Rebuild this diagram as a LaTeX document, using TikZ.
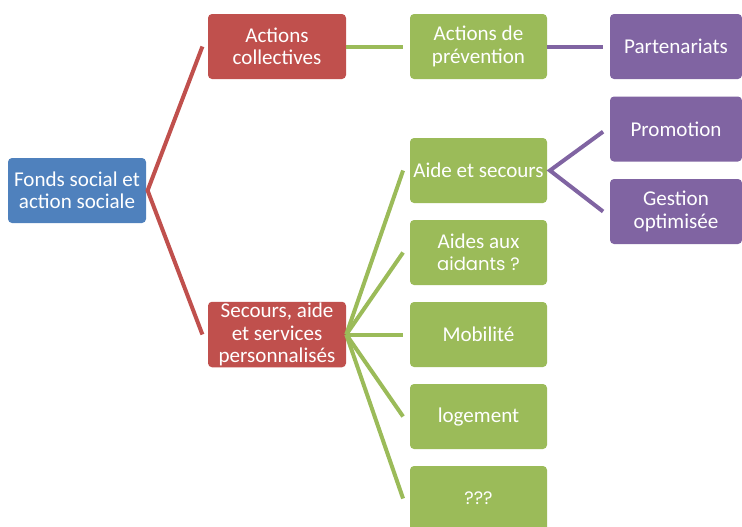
\documentclass[tikz,border=0pt]{standalone}
\usepackage{fontspec}
\setmainfont{Carlito}
\newfontfamily\geofont{Poppins}
\definecolor{cblue}{HTML}{4F81BD}
\definecolor{cred}{HTML}{C0504D}
\definecolor{cgreen}{HTML}{9BBB59}
\definecolor{cpurple}{HTML}{8064A2}
\tikzset{
  box/.style={rounded corners=3pt, minimum width=103.5pt, minimum height=48.75pt, inner sep=1pt,
    text=white, align=center, font=\fontsize{15.8}{16.8}\selectfont},
  bluebox/.style={box, fill=cblue},
  redbox/.style={box, fill=cred},
  greenbox/.style={box, fill=cgreen, minimum width=102.75pt},
  purplebox/.style={box, fill=cpurple, minimum width=99pt},
  link/.style={line width=3pt},
  redlink/.style={link, draw=cred},
  greenlink/.style={link, draw=cgreen},
  purplelink/.style={link, draw=cpurple},
}
\begin{document}
\begin{tikzpicture}[x=0.75pt,y=-0.75pt]
\useasboundingbox (0,0) rectangle (742,526);
\node[bluebox] (fonds) at (77,190.5) {Fonds social et\\action sociale};
\node[redbox] (coll) at (277,46.5) {Actions\\collectives};
\node[redbox] (sec) at (277,334.5) {Secours, aide\\et services\\personnalisés};
\node[greenbox] (prev) at (478.5,46.5) {Actions de\\prévention};
\node[purplebox] (part) at (676,46.5) {Partenariats};
\node[purplebox] (promo) at (676,129) {Promotion};
\node[purplebox] (gest) at (676,211.5) {Gestion\\optimisée};
\node[greenbox] (aide) at (478.5,170.5) {Aide et secours};
\node[greenbox] (aidants) at (478.5,252.5) {Aides aux\\{\geofont\fontsize{13.5}{16.8}\selectfont aidants ?}};
\node[greenbox] (mob) at (478.5,334.5) {Mobilité};
\node[greenbox] (log) at (478.5,416.5) {logement};
\node[greenbox] (qqq) at (478.5,498.5) {{\geofont\fontsize{13.5}{16.8}\selectfont ???}};

\coordinate (fo) at ([xshift=1pt]fonds.east);
\draw[redlink] ([xshift=-4pt]coll.west) -- (fo) -- ([xshift=-4pt]sec.west);
\draw[greenlink] (coll.east) -- ([xshift=-5pt]prev.west);
\draw[purplelink] (prev.east) -- ([xshift=-5pt]part.west);
\coordinate (ao) at ([xshift=2pt]aide.east);
\draw[purplelink] ([xshift=-5pt,yshift=-2pt]promo.west) -- (ao) -- ([xshift=-5pt]gest.west);
\coordinate (so) at (sec.east);
\foreach \t in {aide,aidants,mob,log,qqq}{
  \draw[greenlink] (so) -- ([xshift=-5pt]\t.west);
}
\end{tikzpicture}
\end{document}
